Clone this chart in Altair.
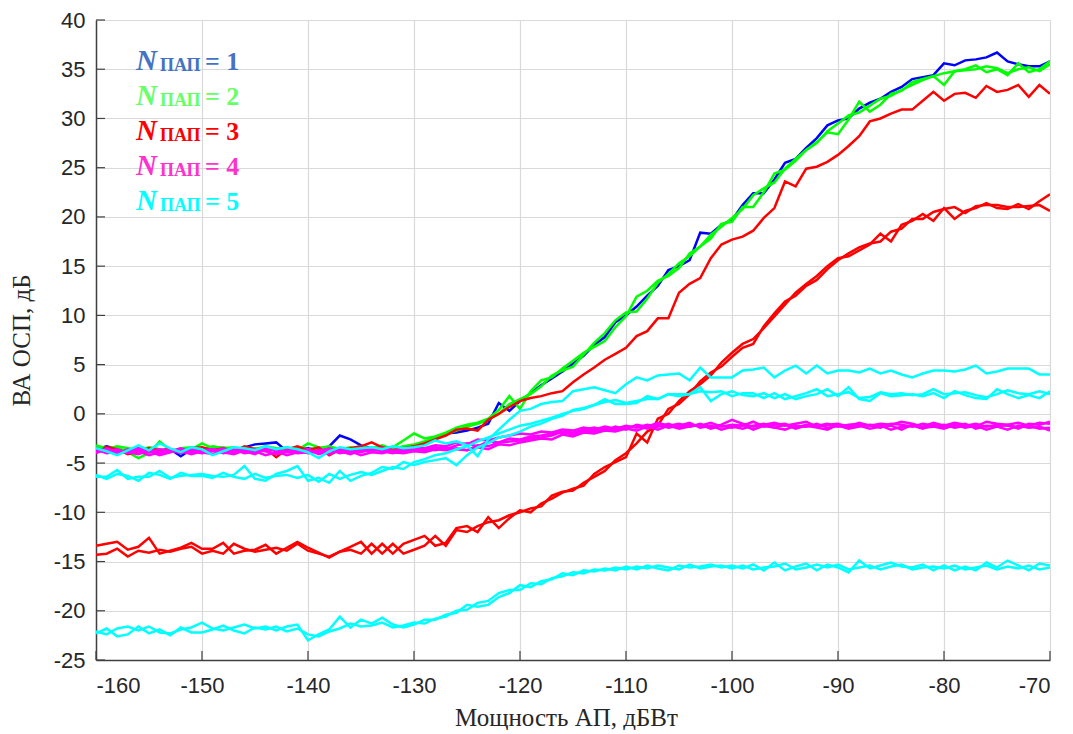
import altair as alt
import pandas as pd

# ---------------- data ----------------
x_vals = list(range(-160, -69))  # input power, dBW (1 dB step)

n1_blue = [
    -3.6, -3.3, -3.6, -3.8, -3.5, -3.9, -3.7, -3.6, -4.3, -3.6,
    -3.5, -3.7, -3.6, -3.8, -3.4, -3.1, -3.0, -2.9, -3.8, -3.6,
    -3.5, -3.7, -3.3, -2.2, -2.6, -3.2, -3.5, -3.4, -3.8, -3.5,
    -3.4, -3.0, -2.6, -2.0, -1.9, -1.7, -1.4, -1.0, 1.1, 0.3,
    1.3, 2.1, 2.9, 3.6, 4.3, 5.1, 5.9, 7.0, 7.8, 9.3,
    10.0, 10.9, 12.0, 13.0, 14.6, 15.0, 15.6, 18.4, 18.3, 19.2,
    19.7, 21.2, 22.4, 22.4, 23.8, 25.5, 25.9, 27.0, 28.0, 29.3,
    29.8, 30.0, 31.0, 31.6, 32.0, 32.7, 33.2, 34.0, 34.2, 34.4,
    35.6, 35.4, 35.9, 36.0, 36.2, 36.7, 35.8, 35.5, 35.3, 35.3,
    35.8]

n2_green_a = [
    -3.2, -3.5, -3.4, -3.9, -4.5, -4.0, -2.8, -3.7, -3.9, -3.6,
    -3.0, -3.5, -3.4, -3.7, -3.6, -3.5, -3.8, -3.6, -3.4, -3.7,
    -3.0, -3.4, -3.6, -3.7, -3.5, -3.3, -3.6, -3.5, -3.4, -2.7,
    -2.0, -2.5, -2.3, -1.9, -1.4, -1.1, -0.9, -0.5, 0.4, 1.8,
    0.5, 2.3, 3.4, 3.7, 4.6, 5.4, 6.2, 6.8, 7.4, 8.8,
    9.9, 11.9, 12.5, 13.5, 14.0, 14.8, 16.3, 17.0, 17.8, 19.3,
    19.5, 21.0, 21.0, 22.5, 24.4, 24.8, 25.7, 26.8, 27.6, 28.6,
    28.4, 29.9, 31.7, 30.7, 31.4, 32.5, 32.8, 33.7, 34.0, 34.3,
    33.4, 34.8, 35.0, 35.4, 34.7, 35.0, 34.4, 35.6, 34.7, 35.0,
    35.8]

n2_green_b = [
    -3.4, -3.6, -3.3, -3.5, -3.7, -3.4, -3.6, -3.9, -3.5, -3.4,
    -3.6, -3.3, -3.5, -3.4, -3.8, -3.6, -3.3, -3.5, -3.6, -3.4,
    -3.6, -3.5, -3.3, -3.6, -3.4, -3.7, -3.5, -3.2, -3.6, -3.3,
    -3.1, -2.8, -2.4, -2.1, -1.7, -1.3, -1.0, -0.6, 0.0, 1.0,
    1.5, 2.0, 2.8, 3.9, 4.4, 4.8, 6.0, 7.2, 8.2, 9.5,
    10.3, 10.4, 11.7, 13.3, 14.2, 15.3, 16.0, 17.0, 18.2, 19.0,
    19.9, 20.8, 22.2, 22.9, 23.5, 24.9, 25.9, 26.8, 27.5, 28.7,
    29.5, 30.3, 30.6, 31.3, 32.0, 32.3, 32.9, 33.4, 33.9, 34.3,
    34.6, 34.8, 34.9, 35.0, 35.3, 35.1, 34.6, 35.0, 35.2, 34.8,
    35.5]

n3_red_top = [
    -3.9, -3.4, -3.6, -4.1, -3.8, -3.5, -3.7, -3.6, -3.9, -3.5,
    -3.4, -3.7, -3.5, -3.8, -3.3, -3.6, -3.5, -4.4, -3.6, -3.3,
    -3.7, -3.4, -4.2, -3.6, -3.5, -3.3, -2.9, -3.4, -3.7, -3.5,
    -3.3, -3.0, -2.6, -2.2, -1.6, -1.5, -1.7, -0.6, 0.0, 0.7,
    1.3, 1.6, 1.8, 2.1, 2.3, 3.2, 4.0, 4.7, 5.5, 6.1,
    6.7, 7.9, 8.4, 9.7, 9.7, 12.3, 13.2, 13.8, 15.8, 17.2,
    17.7, 18.0, 18.6, 19.9, 20.9, 23.6, 23.1, 24.9, 25.1, 25.6,
    26.3, 27.2, 28.2, 29.7, 30.0, 30.5, 30.9, 30.9, 31.8, 32.7,
    31.8, 32.5, 32.6, 32.1, 33.3, 32.7, 32.9, 33.4, 32.2, 33.4,
    32.5]

n3_red_low_a = [
    -13.4, -13.2, -13.0, -13.8, -13.5, -12.6, -14.2, -13.9, -13.6, -13.1,
    -13.7, -13.7, -13.1, -14.2, -13.9, -13.8, -13.3, -14.2, -13.6, -13.0,
    -13.6, -14.1, -14.6, -14.0, -13.5, -13.0, -14.2, -13.2, -14.2, -13.2,
    -12.8, -12.4, -13.4, -13.1, -11.6, -11.4, -12.0, -10.5, -11.6, -10.6,
    -9.8, -10.0, -9.1, -8.6, -8.0, -7.6, -7.3, -6.1, -5.4, -4.9,
    -4.4, -2.0, -2.9, -0.5, 0.0, 1.3, 2.3, 3.0, 3.9, 5.2,
    6.2, 7.1, 7.6, 8.7, 9.9, 11.1, 12.3, 13.2, 14.0, 15.0,
    15.8, 16.0, 16.6, 17.2, 18.3, 17.5, 19.2, 19.6, 20.3, 19.6,
    20.9, 19.8, 20.6, 20.9, 21.4, 20.9, 20.8, 21.3, 20.8, 21.6,
    22.3]

n3_red_low_b = [
    -14.3, -14.2, -13.7, -14.5, -13.9, -14.1, -13.8, -14.0, -13.7, -13.5,
    -14.2, -13.9, -14.2, -13.2, -13.7, -14.0, -13.8, -13.6, -13.9, -13.2,
    -13.9, -14.2, -14.5, -14.0, -13.8, -14.2, -13.2, -14.2, -13.2, -14.2,
    -13.8, -13.4, -12.4, -13.4, -11.8, -12.0, -11.4, -11.0, -10.8, -10.3,
    -10.0, -9.6, -9.4, -8.3, -7.9, -7.8, -7.0, -6.4, -5.8, -4.7,
    -4.0, -3.0, -1.8, -1.2, 0.5, 1.0, 2.0, 3.3, 4.2, 4.8,
    5.8, 6.7, 7.1, 8.9, 10.2, 11.4, 12.0, 13.0, 13.6, 14.7,
    15.6, 16.3, 16.9, 17.3, 17.5, 18.5, 18.8, 19.8, 19.8, 20.5,
    20.8, 21.0, 20.4, 21.1, 21.2, 21.2, 21.0, 21.0, 21.1, 21.2,
    20.6]

n4_mag_a = [
    -3.5, -3.8, -3.6, -4.0, -3.7, -3.9, -3.6, -3.8, -3.5, -3.9,
    -3.7, -3.6, -4.0, -3.8, -3.5, -3.9, -3.7, -3.6, -3.9, -3.8,
    -3.6, -4.1, -3.8, -3.5, -3.9, -3.6, -3.7, -3.5, -3.8, -3.6,
    -3.4, -3.5, -3.2, -3.3, -2.9, -3.1, -2.6, -2.7, -2.4, -2.2,
    -2.0, -2.1, -1.8, -1.9, -1.6, -1.7, -1.4, -1.6, -1.3, -1.5,
    -1.2, -1.4, -1.1, -1.3, -1.0, -1.4, -1.1, -1.2, -0.9, -1.3,
    -1.1, -1.2, -0.8, -1.3, -1.1, -1.0, -1.4, -1.1, -1.2, -1.0,
    -1.3, -1.1, -1.0, -1.2, -1.4, -1.0, -1.1, -1.3, -1.0, -1.2,
    -1.1, -1.4, -1.2, -1.0, -1.3, -1.1, -1.2, -1.5, -1.0, -1.1,
    -0.8]

n4_mag_b = [
    -3.9, -3.7, -4.1, -3.6, -3.8, -4.2, -3.9, -3.7, -4.0, -3.6,
    -3.9, -4.1, -3.7, -3.6, -4.0, -3.8, -4.2, -3.9, -3.7, -4.0,
    -3.9, -3.7, -3.6, -4.0, -3.8, -4.2, -3.9, -4.0, -3.7, -3.8,
    -3.6, -3.7, -3.4, -3.6, -3.2, -3.0, -3.3, -2.8, -2.9, -2.5,
    -2.6, -2.3, -2.2, -2.0, -1.9, -2.1, -1.7, -1.8, -1.5, -1.6,
    -1.4, -1.2, -1.5, -1.1, -1.4, -1.2, -0.9, -1.4, -1.2, -1.6,
    -1.3, -1.5, -1.2, -1.0, -1.4, -1.6, -1.2, -1.3, -1.0, -1.4,
    -1.2, -1.5, -1.3, -1.1, -1.2, -1.6, -1.3, -1.2, -1.5, -1.1,
    -1.4, -1.2, -1.0, -1.5, -1.2, -1.3, -1.6, -1.2, -1.4, -1.3,
    -1.7]

n4_mag_c = [
    -3.6, -4.0, -3.8, -3.9, -4.1, -3.7, -4.0, -3.6, -3.8, -4.1,
    -3.8, -3.6, -3.9, -4.1, -3.7, -3.6, -3.8, -4.1, -3.8, -3.6,
    -4.0, -3.8, -4.1, -3.7, -3.6, -3.9, -3.6, -3.8, -4.0, -3.7,
    -3.7, -3.5, -3.7, -3.4, -3.6, -3.7, -3.2, -3.3, -2.9, -2.8,
    -2.7, -2.5, -2.4, -2.2, -1.8, -1.9, -1.6, -1.4, -1.7, -1.3,
    -1.6, -1.1, -1.3, -0.9, -1.2, -1.0, -1.3, -1.0, -1.4, -1.1,
    -0.6, -1.0, -1.3, -1.1, -0.9, -1.2, -1.0, -0.8, -1.3, -1.1,
    -1.0, -1.3, -0.9, -1.2, -1.0, -1.1, -0.8, -1.0, -1.3, -0.9,
    -1.2, -0.9, -1.1, -1.3, -0.8, -1.0, -1.1, -0.9, -1.2, -0.9,
    -1.0]

n4_mag_d = [
    -4.0, -3.5, -3.9, -3.7, -3.5, -3.8, -4.2, -3.9, -3.6, -3.8,
    -4.0, -3.8, -3.5, -3.9, -3.8, -4.1, -3.5, -3.8, -4.2, -3.9,
    -3.7, -3.9, -3.5, -3.8, -4.1, -3.7, -3.8, -3.6, -3.9, -4.0,
    -3.8, -3.9, -3.6, -3.7, -3.5, -3.7, -3.4, -3.6, -3.1, -3.2,
    -2.9, -2.7, -2.5, -2.6, -2.1, -2.3, -1.9, -2.0, -1.7, -1.8,
    -1.5, -1.7, -1.3, -1.6, -1.2, -1.5, -1.3, -1.1, -1.5, -1.2,
    -1.4, -1.1, -1.6, -1.2, -1.4, -1.1, -1.5, -1.2, -1.4, -1.6,
    -1.1, -1.4, -1.2, -1.5, -1.3, -1.2, -1.6, -1.1, -1.4, -1.3,
    -1.5, -1.1, -1.4, -1.2, -1.6, -1.3, -1.1, -1.4, -1.2, -1.5,
    -1.4]

n5_cyan_top = [
    -3.5, -3.8, -4.2, -3.7, -3.2, -3.7, -3.0, -3.5, -3.9, -3.4,
    -3.6, -4.2, -3.8, -3.4, -3.5, -3.7, -3.3, -3.6, -3.4, -3.6,
    -3.9, -4.5, -3.8, -3.4, -3.6, -3.5, -3.4, -3.6, -3.3, -3.5,
    -3.4, -3.2, -2.7, -3.0, -2.8, -3.2, -4.3, -2.6, -1.6, -0.6,
    0.3, 0.5, 1.0, 1.2, 1.3, 2.3, 2.5, 2.7, 2.4, 2.1,
    3.0, 3.7, 3.4, 3.9, 4.0, 4.1, 3.4, 4.7, 3.7, 3.7,
    3.7, 4.4, 4.5, 4.7, 3.7, 4.4, 4.9, 4.1, 4.9, 4.1,
    4.4, 4.4, 4.2, 4.6, 4.1, 4.4, 4.0, 3.7, 4.1, 4.4,
    4.4, 4.3, 4.5, 4.9, 4.1, 4.3, 4.6, 4.6, 4.6, 4.0,
    4.0]

n5_cyan_mid_a = [
    -6.4, -6.4, -5.7, -6.6, -6.4, -6.4, -5.8, -6.5, -6.3, -6.2,
    -6.1, -6.3, -6.4, -6.2, -5.3, -6.6, -6.8, -6.1, -5.8, -5.3,
    -6.8, -6.5, -7.0, -5.8, -6.8, -6.3, -6.0, -5.4, -5.6, -4.9,
    -5.2, -4.9, -4.7, -4.5, -5.2, -4.2, -3.4, -3.0, -2.4, -2.2,
    -1.8, -1.3, -1.0, -0.5, -0.2, 0.4, 0.6, 0.9, 1.5, 1.0,
    1.0, 1.1, 1.8, 1.5, 2.0, 2.0, 2.0, 2.7, 1.3, 2.0,
    2.3, 1.9, 1.8, 2.1, 1.6, 2.0, 1.5, 1.8, 2.0, 2.5,
    1.8, 2.7, 1.5, 1.3, 2.1, 1.8, 1.9, 2.0, 1.8, 2.1,
    1.6, 2.3, 1.9, 1.6, 1.5, 2.5, 2.0, 1.6, 1.9, 1.6,
    2.3]

n5_cyan_mid_b = [
    -6.2, -6.6, -6.1, -6.3, -6.8, -6.0, -6.2, -6.6, -6.0, -6.3,
    -6.3, -6.5, -6.0, -6.4, -6.6, -6.1, -6.5, -6.3, -6.2, -6.5,
    -6.2, -6.9, -6.1, -6.6, -6.2, -5.9, -6.2, -5.8, -5.4, -5.6,
    -4.9, -4.6, -4.2, -4.0, -3.6, -3.3, -2.8, -2.4, -2.0, -1.6,
    -1.2, -1.0, -0.7, -0.4, 0.0, 0.3, 0.5, 0.9, 1.2, 1.4,
    1.1, 1.3, 1.5, 1.5, 2.0, 1.8, 2.0, 2.3, 2.2, 2.3,
    1.8, 2.1, 2.1, 1.6, 2.1, 1.5, 1.8, 2.1, 2.5, 1.8,
    2.0, 2.2, 1.6, 1.7, 2.2, 2.0, 2.1, 1.9, 2.0, 2.5,
    2.0, 2.1, 2.2, 1.9, 1.7, 2.0, 2.4, 2.1, 2.0, 2.3,
    2.0]

n5_cyan_low_a = [
    -22.1, -22.4, -21.8, -21.6, -22.0, -21.6, -22.2, -22.3, -21.9, -21.7,
    -21.2, -21.8, -22.0, -21.7, -21.4, -21.8, -21.6, -22.0, -21.6, -21.4,
    -23.0, -22.4, -21.9, -20.6, -21.7, -20.9, -21.3, -20.7, -21.4, -21.7,
    -21.4, -20.9, -20.9, -20.4, -20.2, -19.4, -19.6, -19.4, -18.6, -18.2,
    -17.4, -17.6, -17.0, -16.8, -16.2, -16.4, -15.9, -16.0, -15.7, -15.9,
    -15.5, -15.8, -15.4, -15.7, -15.9, -15.4, -15.6, -15.5, -15.3, -15.6,
    -15.4, -15.7, -15.3, -15.9, -15.1, -15.9, -15.5, -15.2, -15.9, -15.3,
    -15.6, -16.1, -14.9, -15.7, -15.4, -15.1, -15.5, -15.6, -15.3, -15.9,
    -15.4, -15.9, -15.5, -15.9, -15.1, -15.6, -14.9, -15.4, -15.9, -15.2,
    -15.4]

n5_cyan_low_b = [
    -22.3, -21.8, -22.6, -22.4, -21.6, -22.3, -21.9, -22.5, -21.7, -22.2,
    -22.2, -21.9, -21.5, -22.0, -22.3, -21.7, -21.9, -21.6, -22.1, -21.8,
    -22.4, -22.6, -22.1, -21.8, -21.3, -21.6, -21.5, -21.2, -21.7, -21.5,
    -21.2, -21.3, -20.8, -20.6, -20.0, -19.9, -19.2, -19.0, -18.2, -17.9,
    -17.9, -17.2, -17.3, -16.7, -16.5, -16.1, -16.2, -15.8, -15.9, -15.6,
    -15.8, -15.5, -15.7, -15.4, -15.6, -15.8, -15.3, -15.7, -15.5, -15.4,
    -15.7, -15.4, -15.8, -15.6, -15.5, -15.2, -15.8, -15.6, -15.3, -15.6,
    -15.3, -15.8, -15.6, -15.4, -15.8, -15.5, -15.3, -15.8, -15.6, -15.5,
    -15.7, -15.4, -15.8, -15.6, -15.4, -15.8, -15.5, -15.7, -15.4, -15.8,
    -15.6]

x_ticks = list(range(-160, -69, 10))
y_ticks = list(range(-25, 41, 5))

legend_numbers = ["1", "2", "3", "4", "5"]
legend_colors = ["#4472C4", "#66FF66", "#FF0000", "#FF33CC", "#00FFFF"]

groups = [
    ("n1", "#0000FF", [n1_blue]),
    ("n2", "#00FF00", [n2_green_a, n2_green_b]),
    ("n3", "#FF0000", [n3_red_top, n3_red_low_a, n3_red_low_b]),
    ("n4", "#FF00FF", [n4_mag_a, n4_mag_b, n4_mag_c, n4_mag_d]),
    ("n5", "#00FFFF", [n5_cyan_top, n5_cyan_mid_a, n5_cyan_mid_b,
                       n5_cyan_low_a, n5_cyan_low_b]),
]

# ---------------- chart ----------------
W, H = 954, 640
AXIS_COLOR = "#404040"

x_scale = alt.Scale(domain=[-160, -70], nice=False, zero=False)
y_scale = alt.Scale(domain=[-25, 40], nice=False, zero=False)

x_axis = alt.Axis(
    values=x_ticks, title="Мощность АП, дБВт", grid=True, ticks=False, tickSize=0,
    labelPadding=15, titleX=470, titleY=65, titleBaseline="alphabetic",
    titleAlign="center", labelExpr="'' + datum.value",
)
y_axis = alt.Axis(
    values=y_ticks, title="ВА ОСП, дБ", grid=True, ticks=False, tickSize=0,
    labelPadding=11, titleX=-75, titleY=H / 2, titleAngle=-90,
    titleBaseline="middle", titleAlign="center", labelExpr="'' + datum.value",
)

layers = []
for gname, color, lines in groups:
    rows = []
    for i, ys in enumerate(lines):
        for xv, yv in zip(x_vals, ys):
            rows.append({"x": xv, "y": yv, "line": f"{gname}_{i}"})
    df = pd.DataFrame(rows)
    layers.append(
        alt.Chart(df).mark_line(color=color, strokeWidth=2.5, clip=True).encode(
            x=alt.X("x:Q", scale=x_scale, axis=x_axis),
            y=alt.Y("y:Q", scale=y_scale, axis=y_axis),
            detail="line:N",
        )
    )

# inward tick marks (MATLAB style)
xt_df = pd.DataFrame({"x": x_ticks})
yt_df = pd.DataFrame({"y": y_ticks})
layers.append(
    alt.Chart(xt_df).mark_rule(color=AXIS_COLOR, strokeWidth=1.2).encode(
        x=alt.X("x:Q", scale=x_scale, axis=x_axis),
        y=alt.value(H), y2=alt.value(H - 9),
    )
)
layers.append(
    alt.Chart(yt_df).mark_rule(color=AXIS_COLOR, strokeWidth=1.2).encode(
        y=alt.Y("y:Q", scale=y_scale, axis=y_axis),
        x=alt.value(0), x2=alt.value(9),
    )
)

# text legend
one = pd.DataFrame({"k": [0]})
for i, (num, col) in enumerate(zip(legend_numbers, legend_colors)):
    base_y = 50 + 35 * i
    layers.append(
        alt.Chart(one).mark_text(
            text="N", font="Liberation Serif", fontSize=29, fontWeight="bold",
            fontStyle="italic", align="left", baseline="alphabetic", color=col,
        ).encode(x=alt.value(40), y=alt.value(base_y))
    )
    layers.append(
        alt.Chart(one).mark_text(
            text="ПАП", font="Liberation Serif", fontSize=18, fontWeight="bold",
            align="left", baseline="alphabetic", color=col,
        ).encode(x=alt.value(64), y=alt.value(base_y + 1))
    )
    layers.append(
        alt.Chart(one).mark_text(
            text="= " + num, font="Liberation Serif", fontSize=26, fontWeight="bold",
            align="left", baseline="alphabetic", color=col,
        ).encode(x=alt.value(109), y=alt.value(base_y))
    )

chart = (
    alt.layer(*layers)
    .properties(
        width=W, height=H,
        padding={"left": 88, "top": 12, "right": 15, "bottom": 70},
        autosize=alt.AutoSizeParams(type="none"),
    )
    .configure_view(stroke=None)
    .configure_axis(
        labelFont="Liberation Sans", labelFontSize=22, labelColor="#262626",
        titleFont="Liberation Serif", titleFontSize=25, titleFontWeight="normal",
        titleColor="#262626",
        gridColor="#d9d9d9", gridWidth=1.2,
        domainColor=AXIS_COLOR, domainWidth=1.5,
    )
)

chart.save("out.html", embed_options={"renderer": "svg", "actions": False})
